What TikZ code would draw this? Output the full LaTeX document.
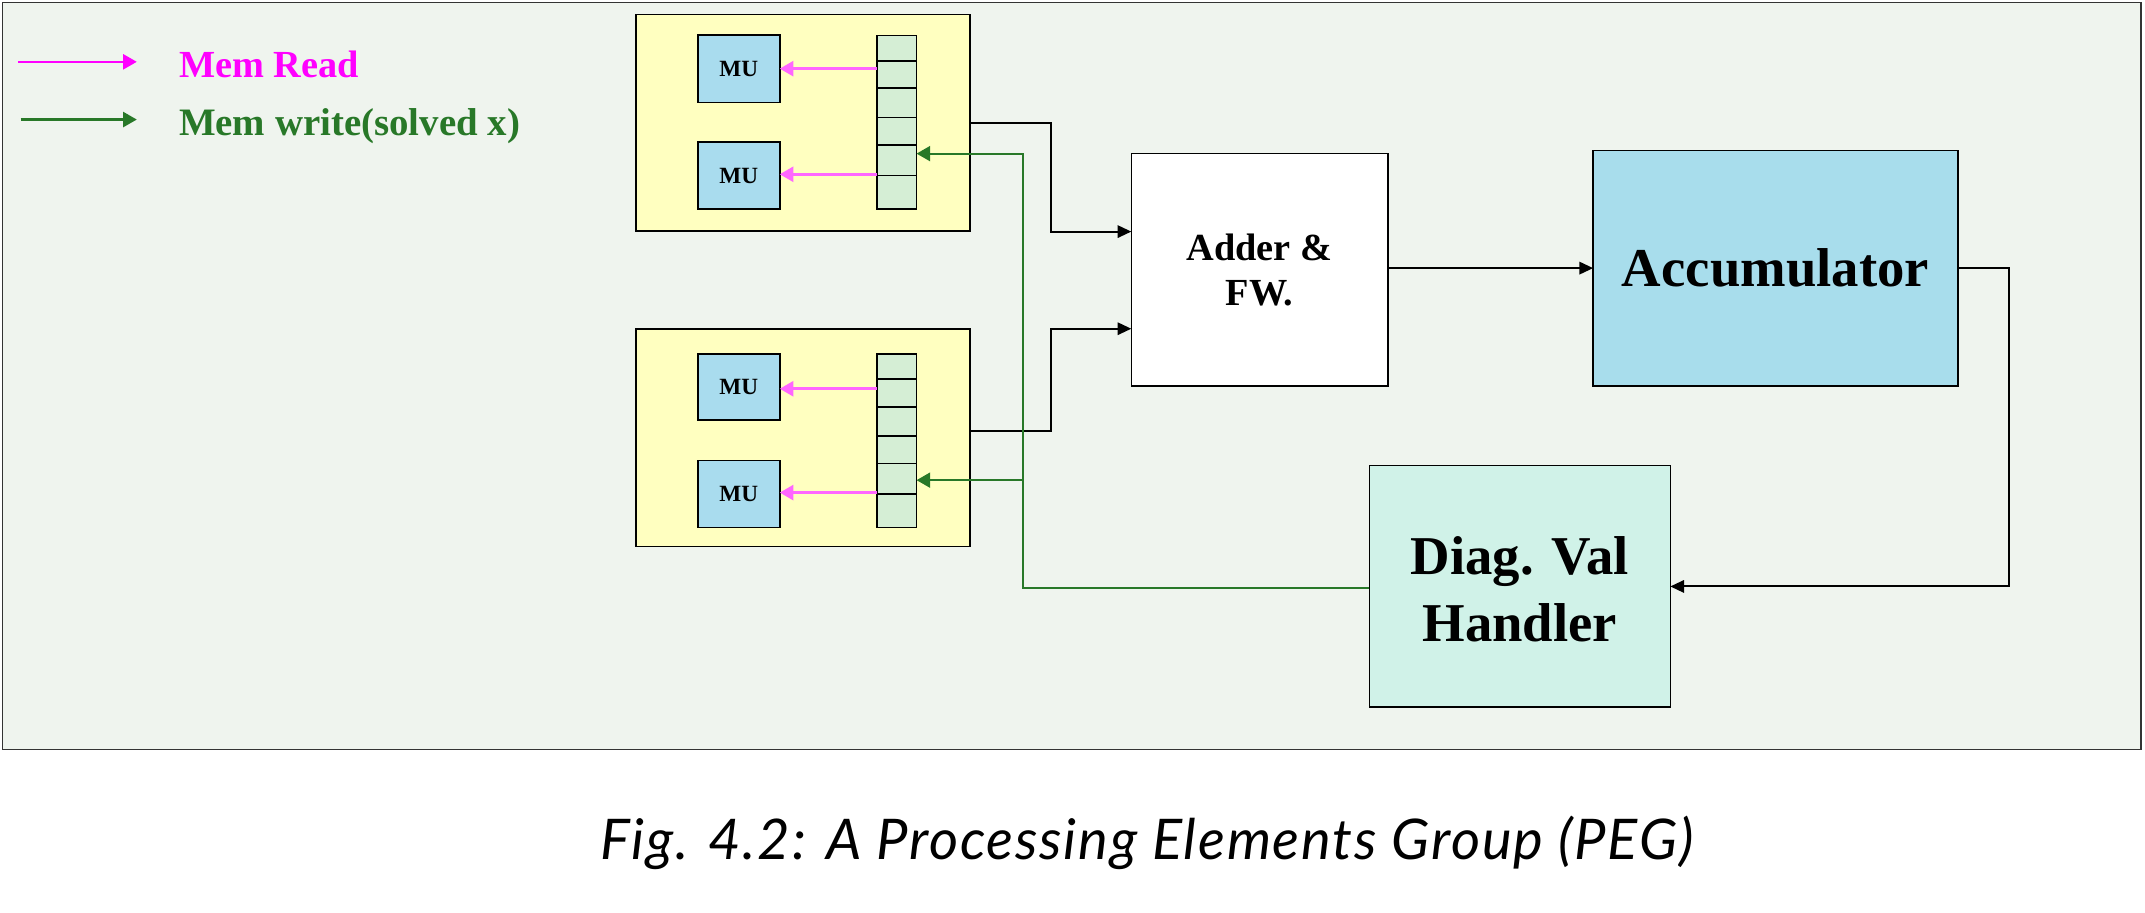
\documentclass[tikz,border=0pt]{standalone}
\usepackage{fontspec}
\setmainfont{Liberation Serif}
\newfontfamily\capfont[LetterSpace=3.2]{Lato}
\usetikzlibrary{arrows.meta}
\definecolor{bgc}{RGB}{239,244,238}
\definecolor{pey}{RGB}{255,255,192}
\definecolor{mub}{RGB}{169,220,238}
\definecolor{cellg}{RGB}{213,238,213}
\definecolor{accb}{RGB}{168,221,236}
\definecolor{diagc}{RGB}{208,242,232}
\definecolor{magc}{RGB}{255,0,255}
\definecolor{pinkc}{RGB}{255,102,255}
\definecolor{grnc}{RGB}{40,120,40}
\def\unitpx{0.5pt}
\tikzset{
  bx/.style={draw=black, line width=0.6pt, inner sep=0pt, outer sep=0pt, anchor=north west},
  blk/.style={draw=black, line width=0.75pt, -{Triangle[length=5pt,width=4.5pt]}},
  pinkarr/.style={draw=pinkc, line width=1pt, -{Triangle[length=5pt,width=5.5pt]}},
  grnarr/.style={draw=grnc, line width=0.8pt, -{Triangle[length=5pt,width=5.5pt]}},
  magarr/.style={draw=magc, line width=0.8pt, -{Triangle[length=5pt,width=5.5pt]}},
  legarr/.style={draw=grnc, line width=0.8pt, -{Triangle[length=5pt,width=5.5pt]}},
  mutext/.style={font=\bfseries\fontsize{8.5}{9}\selectfont},
}
\begin{document}
\begin{tikzpicture}[x=0.5pt,y=-0.5pt]
\useasboundingbox (0,0) rectangle (1568,667);
% frame
\node[bx, draw=black!80, line width=0.5pt, fill=bgc, minimum width=1563*\unitpx, minimum height=546*\unitpx] (frame) at (2,2) {};
% legend
\coordinate (lm1) at (13,45.2); \coordinate (lm2) at (100,45.2);
\coordinate (lg1) at (15,87.4); \coordinate (lg2) at (100,87.4);
\draw[magarr] (lm1) -- (lm2);
\draw[legarr] (lg1) -- (lg2);
\node[anchor=base west, inner sep=0pt, text=magc, font=\bfseries\fontsize{14}{16}\selectfont] (legr) at (130.5,56.3) {Mem Read};
\node[anchor=base west, inner sep=0pt, text=grnc, font=\bfseries\fontsize{14.2}{16}\selectfont] (legw) at (130.5,99) {Mem write(solved x)};
% PE boxes
\node[bx, fill=pey, minimum width=244*\unitpx, minimum height=158.5*\unitpx] (peA) at (465,10.5) {};
\node[bx, fill=pey, minimum width=244*\unitpx, minimum height=159*\unitpx] (peB) at (465,240.5) {};
% MUs
\node[bx, fill=mub, minimum width=60*\unitpx, minimum height=49.5*\unitpx] (muA1) at (510,25.5) {};
\node[bx, fill=mub, minimum width=60*\unitpx, minimum height=49.3*\unitpx] (muA2) at (510,103.7) {};
\node[bx, fill=mub, minimum width=60*\unitpx, minimum height=48.5*\unitpx] (muB1) at (510,258.7) {};
\node[bx, fill=mub, minimum width=60*\unitpx, minimum height=49*\unitpx] (muB2) at (510,336.7) {};
\foreach \m in {muA1,muA2,muB1,muB2}{\node[mutext] at (\m.center) {MU};}
% memory columns
\node[bx, fill=cellg, minimum width=29*\unitpx, minimum height=127*\unitpx] (ctA) at (641,26) {};
\node[bx, fill=cellg, minimum width=29*\unitpx, minimum height=127*\unitpx] (ctB) at (641,258.7) {};
\foreach \yy in {44.4,64.4,86,105.8,128.2}{\draw[line width=0.6pt] (ctA.west |- 0,\yy) -- (ctA.east |- 0,\yy);}
\foreach \yy in {277.1,297.4,318.5,338.8,361.2}{\draw[line width=0.6pt] (ctB.west |- 0,\yy) -- (ctB.east |- 0,\yy);}
% mem read arrows
\draw[pinkarr] (ctA.west |- 0,50.2) -- (muA1.east |- 0,50.2);
\draw[pinkarr] (ctA.west |- 0,127.4) -- (muA2.east |- 0,127.4);
\draw[pinkarr] (ctB.west |- 0,284.2) -- (muB1.east |- 0,284.2);
\draw[pinkarr] (ctB.west |- 0,360.1) -- (muB2.east |- 0,360.1);
% main blocks
\node[bx, fill=white, minimum width=187.5*\unitpx, minimum height=170*\unitpx] (adder) at (827,112.3) {};
\node[align=center, font=\bfseries\fontsize{14}{16.4}\selectfont] at (adder.center) {Adder \&\\FW.};
\node[bx, fill=accb, minimum width=266.5*\unitpx, minimum height=172*\unitpx] (acc) at (1164.6,110) {};
\node[font=\bfseries\fontsize{20}{24}\selectfont] at (acc.center) {Accumulator};
\node[bx, fill=diagc, minimum width=220*\unitpx, minimum height=176.5*\unitpx] (diag) at (1001,340.2) {};
\node[align=center, font=\bfseries\fontsize{20}{24.5}\selectfont] at ([yshift=-1pt]diag.center) {Diag. Val\\Handler};
% black connectors
\draw[blk] (peA.east |- 0,89.7) -- ++(59.4,0) |- (adder.west |- 0,169.3);
\draw[blk] (peB.east |- 0,315) -- ++(59.4,0) |- (adder.west |- 0,240.3);
\draw[blk] (adder.east |- 0,196) -- (acc.west |- 0,196);
\draw[blk] (acc.east |- 0,196) -- ++(37.5,0) |- (diag.east |- 0,428.7);
% green write-back
\coordinate (gtop) at (748,112.3);
\draw[grnarr] (diag.west |- 0,429.6) -| (gtop) -- (ctA.east |- gtop);
\draw[grnarr] (gtop |- 0,351) -- (ctB.east |- 0,351);
% caption
\node[anchor=base, inner sep=0pt, font=\capfont\itshape\fontsize{20.5}{24}\selectfont] (cap) at (838.5,628.6) {Fig. 4.2: A Processing Elements Group (PEG)};
\end{tikzpicture}
\end{document}
